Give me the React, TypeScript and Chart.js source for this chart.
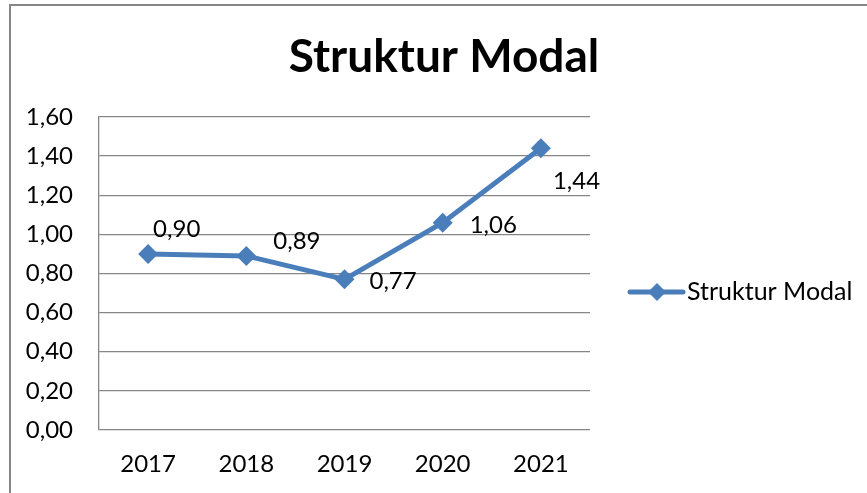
import React, { useEffect, useRef } from "react";
import { Chart, registerables } from "chart.js";

Chart.register(...registerables);

const categories = ["2017", "2018", "2019", "2020", "2021"];
const seriesName = "Struktur Modal";
const seriesValues = [0.9, 0.89, 0.77, 1.06, 1.44];
const chartTitle = "Struktur Modal";
const yMin = 0;
const yMax = 1.6;
const yStep = 0.2;

const FONT = "Lato, 'Open Sans', sans-serif";
const BLUE = "#4A7EBB";
const GRAY = "#868686";

const fmt = (v: number) => v.toFixed(2).replace(".", ",");

const decorPlugin = {
  id: "decor",
  afterDatasetsDraw(chart: any, _args: any, opts: any) {
    const ctx = chart.ctx;
    const meta = chart.getDatasetMeta(0);
    const data = chart.data.datasets[0].data as number[];
    ctx.save();
    ctx.font = `${opts.labelSize}px ${FONT}`;
    ctx.fillStyle = "#000";
    ctx.textAlign = "left";
    ctx.textBaseline = "middle";
    meta.data.forEach((pt: any, i: number) => {
      const off = opts.labelOffsets[i] || [8, -10];
      ctx.fillText(fmt(data[i]), pt.x + off[0], pt.y + off[1]);
    });
    ctx.restore();
  },
  afterDraw(chart: any, _args: any, opts: any) {
    const ctx = chart.ctx;
    ctx.save();
    // outer frame (left + top visible)
    ctx.strokeStyle = GRAY;
    ctx.lineWidth = 2;
    ctx.beginPath();
    ctx.moveTo(10, chart.height + 5);
    ctx.lineTo(10, 5);
    ctx.lineTo(chart.width + 5, 5);
    ctx.stroke();
    // title
    ctx.fillStyle = "#000";
    ctx.font = `bold ${opts.titleSize}px ${FONT}`;
    ctx.textAlign = "center";
    ctx.textBaseline = "middle";
    ctx.fillText(chartTitle, opts.titleX, opts.titleY);
    // legend
    const ly = opts.legendY;
    ctx.strokeStyle = BLUE;
    ctx.lineWidth = 5;
    ctx.lineCap = "round";
    ctx.beginPath();
    ctx.moveTo(opts.legendX, ly);
    ctx.lineTo(opts.legendX + 53, ly);
    ctx.stroke();
    ctx.fillStyle = BLUE;
    const cx = opts.legendX + 27;
    ctx.beginPath();
    ctx.moveTo(cx - 9, ly);
    ctx.lineTo(cx, ly - 9);
    ctx.lineTo(cx + 9, ly);
    ctx.lineTo(cx, ly + 9);
    ctx.closePath();
    ctx.fill();
    ctx.fillStyle = "#000";
    ctx.font = `${opts.legendSize}px ${FONT}`;
    ctx.textAlign = "left";
    ctx.fillText(seriesName, opts.legendX + 57, ly);
    ctx.restore();
  },
};

export default function App() {
  const ref = useRef<HTMLCanvasElement | null>(null);
  useEffect(() => {
    if (!ref.current) return;
    const chart = new Chart(ref.current, {
      type: "line",
      data: {
        labels: categories,
        datasets: [
          {
            label: seriesName,
            data: seriesValues,
            borderColor: BLUE,
            backgroundColor: BLUE,
            borderWidth: 5,
            pointStyle: "rectRot",
            pointRadius: 10,
            pointBackgroundColor: BLUE,
            pointBorderWidth: 0,
            tension: 0,
          },
        ],
      },
      plugins: [decorPlugin as any],
      options: {
        animation: false,
        responsive: false,
        layout: { padding: { left: 0, top: 117, right: 277, bottom: 0 } },
        plugins: {
          legend: { display: false },
          title: { display: false },
          tooltip: { enabled: false },
          decor: {
            labelSize: 24,
            legendSize: 25,
            titleSize: 46,
            titleX: 444,
            titleY: 57,
            legendX: 630,
            legendY: 292,
            labelOffsets: [
              [5, -25],
              [27, -15],
              [25, 2],
              [27, 3],
              [12, 33],
            ],
          },
        } as any,
        scales: {
          x: {
            offset: true,
            grid: { display: false, drawTicks: false },
            border: { display: false },
            ticks: { font: { family: FONT, size: 24 }, color: "#000", padding: 20 },
            afterFit: (s: any) => {
              s.height = 63;
            },
          },
          y: {
            min: yMin,
            max: yMax,
            grid: { color: GRAY, lineWidth: 1.3, drawTicks: false },
            border: { display: true, color: GRAY, width: 1.3 },
            ticks: {
              stepSize: yStep,
              font: { family: FONT, size: 24 },
              color: "#000",
              padding: 26,
              callback: (v: any) => fmt(Number(v)),
            },
            afterFit: (s: any) => {
              s.width = 99;
            },
          },
        },
      },
    });
    return () => chart.destroy();
  }, []);
  return (
    <div style={{ position: "fixed", left: 0, top: 0, width: 867, height: 493, background: "#fff" }}>
      <canvas ref={ref} width={867} height={493} style={{ display: "block" }} />
    </div>
  );
}
